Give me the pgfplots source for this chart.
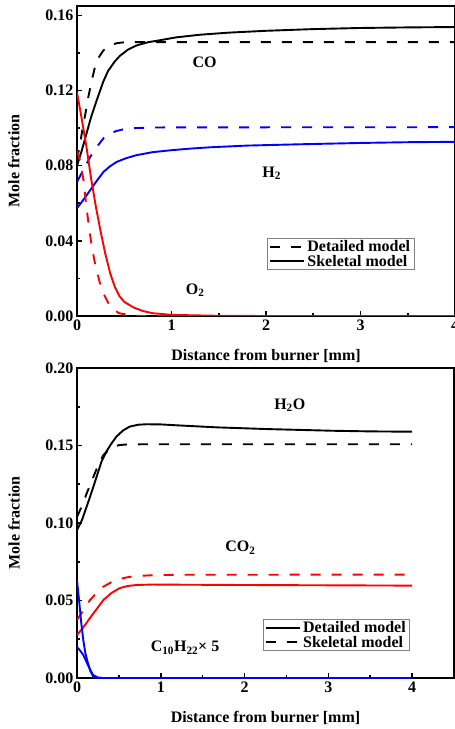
\documentclass[border=0pt]{standalone}
\usepackage{fontspec}
\setmainfont{Liberation Serif}
\usepackage{pgfplots}
\pgfplotsset{compat=1.18}

\pgfplotsset{
  flame/.style={
    scale only axis, anchor=south west,
    xmin=0, ymin=0,
    xtick={0,1,2,3,4}, minor x tick num=1, minor y tick num=1,
    xtick pos=bottom, ytick pos=left, tick align=inside,
    major tick length=5bp, minor tick length=3bp,
    every tick/.style={black, line width=1.6bp},
    axis line style={line width=2.4bp},
    /pgf/number format/assume math mode=true,
    yticklabel style={/pgf/number format/.cd, fixed, fixed zerofill, precision=2},
    scaled y ticks=false,
    xlabel={Distance from burner [mm]}, ylabel={Mole fraction},
    xlabel style={at={(axis description cs:0.5,-0.13)}, anchor=center},
    ylabel style={at={(axis description cs:-0.167,0.5)}, anchor=center},
    legend cell align=left,
    legend style={draw=gray, line width=0.8bp, inner xsep=2bp, inner ysep=0bp, row sep=-2bp},
    legend image code/.code={\draw[#1] (0bp,0bp) -- (34bp,0bp);},
    every axis plot/.append style={line width=1.9bp},
  },
  det/.style={dash pattern=on 10bp off 11bp},
}

\begin{document}
\begin{tikzpicture}[font=\fontsize{16bp}{18bp}\selectfont\bfseries]
\useasboundingbox (0,0) rectangle (455bp,729bp);

% upper panel
\begin{axis}[flame, at={(77bp,413bp)}, width=378bp, height=310bp,
  xmax=4, ymax=0.165, ytick={0,0.04,0.08,0.12,0.16},
  legend style={at={(axis description cs:0.503,0.148)}, anchor=south west}]
\addlegendimage{black, det}
\addlegendentry{Detailed model}
\addlegendimage{black}
\addlegendentry{Skeletal model}

% CO
\addplot[black, det, forget plot] coordinates {(0,0.083) (0.03,0.091) (0.06,0.100) (0.09,0.108) (0.12,0.1166) (0.155,0.125) (0.19,0.1325) (0.235,0.138) (0.28,0.1414) (0.35,0.1440) (0.42,0.1452) (0.5,0.1457) (0.6,0.1458) (4,0.1458)};
\addplot[black, forget plot] coordinates {(0,0.080) (0.05,0.088) (0.1,0.097) (0.15,0.106) (0.21,0.115) (0.28,0.125) (0.33,0.1305) (0.4,0.1355) (0.455,0.1385) (0.54,0.1418) (0.63,0.144) (0.75,0.1457) (0.88,0.1468) (1.05,0.1483) (1.3,0.1497) (1.6,0.1508) (2,0.1518) (2.5,0.1527) (3,0.1533) (3.5,0.1536) (4,0.1538)};
% H2
\addplot[blue, det, forget plot] coordinates {(0,0.0714) (0.07,0.078) (0.14,0.0847) (0.21,0.090) (0.28,0.0946) (0.35,0.0972) (0.42,0.0985) (0.5,0.0995) (0.6,0.1000) (0.8,0.1003) (1,0.1004) (4,0.1005)};
\addplot[blue, forget plot] coordinates {(0,0.0574) (0.07,0.062) (0.14,0.067) (0.21,0.072) (0.28,0.0767) (0.35,0.0797) (0.42,0.082) (0.52,0.084) (0.63,0.0856) (0.8,0.0872) (0.99,0.0882) (1.2,0.0891) (1.41,0.0898) (1.8,0.0907) (2.36,0.0914) (3,0.0921) (3.5,0.0925) (4,0.0927)};
% O2
\addplot[red, det, forget plot] coordinates {(0,0.088) (0.03,0.083) (0.07,0.072) (0.1,0.058) (0.13,0.046) (0.16,0.036) (0.19,0.028) (0.24,0.018) (0.28,0.012) (0.35,0.005) (0.44,0.0016) (0.55,0.0003) (0.7,0) (4,0)};
\addplot[red, forget plot] coordinates {(0,0.119) (0.05,0.105) (0.1,0.090) (0.15,0.073) (0.2,0.058) (0.25,0.045) (0.3,0.033) (0.35,0.023) (0.4,0.0155) (0.45,0.0105) (0.5,0.0075) (0.6,0.0045) (0.7,0.0026) (0.8,0.0015) (1.0,0.0006) (1.5,0.0001) (2,0) (4,0)};

\node at (axis cs:1.35,0.135) {CO};
\node at (axis cs:2.06,0.076) {H\textsubscript{2}};
\node at (axis cs:1.25,0.0138) {O\textsubscript{2}};
\end{axis}

% lower panel
\begin{axis}[flame, at={(77bp,51bp)}, width=377bp, height=310bp,
  xmax=4.5, ymax=0.20, ytick={0,0.05,0.10,0.15,0.20},
  legend style={at={(axis description cs:0.493,0.087)}, anchor=south west}]
\addlegendimage{black}
\addlegendentry{Detailed model}
\addlegendimage{black, det}
\addlegendentry{Skeletal model}

% H2O
\addplot[black, forget plot] coordinates {(0,0.0955) (0.06,0.102) (0.115,0.1105) (0.175,0.120) (0.235,0.130) (0.295,0.140) (0.355,0.1465) (0.41,0.1512) (0.47,0.1557) (0.55,0.1597) (0.63,0.1622) (0.73,0.1634) (0.83,0.1637) (1.0,0.1636) (1.2,0.163) (1.67,0.1617) (2.27,0.1606) (3.06,0.1595) (3.5,0.1591) (4,0.1589)};
\addplot[black, det, forget plot] coordinates {(0,0.104) (0.06,0.111) (0.115,0.119) (0.175,0.127) (0.235,0.135) (0.315,0.1439) (0.395,0.148) (0.45,0.1495) (0.51,0.1503) (0.6,0.1507) (0.8,0.1508) (4,0.1508)};
% CO2
\addplot[red, det, forget plot] coordinates {(0,0.0374) (0.08,0.044) (0.155,0.0503) (0.235,0.055) (0.315,0.0589) (0.41,0.0618) (0.51,0.0639) (0.61,0.0651) (0.71,0.0658) (0.9,0.0663) (1.2,0.0666) (4,0.0667)};
\addplot[red, forget plot] coordinates {(0,0.0277) (0.08,0.033) (0.155,0.0387) (0.235,0.0445) (0.315,0.0503) (0.41,0.0548) (0.51,0.058) (0.61,0.0594) (0.71,0.060) (0.9,0.0603) (1.2,0.0602) (2,0.0600) (3,0.0598) (4,0.0596)};
% C10H22 x 5
\addplot[blue, forget plot] coordinates {(0,0.063) (0.025,0.050) (0.05,0.036) (0.075,0.0245) (0.1,0.016) (0.13,0.0097) (0.16,0.0045) (0.19,0.0012) (0.25,0.0001) (0.3,0) (4,0)};
\addplot[blue, forget plot] coordinates {(0,0.020) (0.04,0.0175) (0.075,0.0148) (0.1,0.012) (0.13,0.0084) (0.16,0.005) (0.19,0.002) (0.25,0.0003) (0.3,0) (4,0)};

\node at (axis cs:2.54,0.176) {H\textsubscript{2}O};
\node at (axis cs:1.95,0.084) {CO\textsubscript{2}};
\node at (axis cs:1.29,0.0194) {C\textsubscript{10}H\textsubscript{22}× 5};
\end{axis}
\end{tikzpicture}
\end{document}
